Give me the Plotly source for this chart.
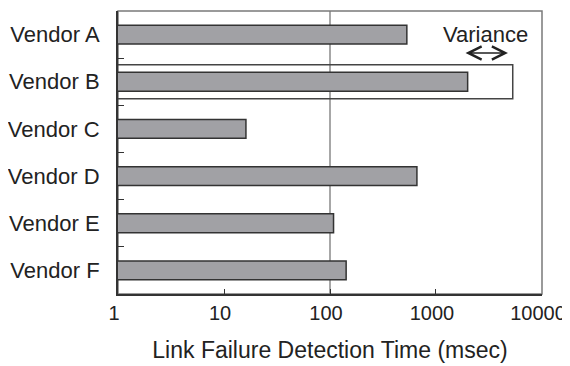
import math
import plotly.graph_objects as go

vendors = ["Vendor A", "Vendor B", "Vendor C", "Vendor D", "Vendor E", "Vendor F"]
detect_ms = [531, 1990, 16.1, 661, 108, 142]
variance_max = [None, 5300, None, None, None, None]
x_ticks = [1, 10, 100, 1000, 10000]
x_tick_labels = ["1", "10", "100", "1000", "10000"]
variance_arrow = [1840, 4780]
variance_label = "Variance"

FONT = "Liberation Sans, Arial, sans-serif"
BAR_FILL = "#a1a1a5"
DARK = "#333333"

fig = go.Figure()

fig.add_trace(go.Bar(
    y=vendors, x=variance_max, orientation="h", width=0.72,
    marker=dict(color="rgba(0,0,0,0)", line=dict(color="#444444", width=1.5)),
    hoverinfo="skip", showlegend=False,
))
fig.add_trace(go.Bar(
    y=vendors, x=detect_ms, orientation="h", width=0.4,
    marker=dict(color=BAR_FILL, line=dict(color=DARK, width=1.5)),
    showlegend=False,
))

# reference line at 100 ms
fig.add_shape(type="line", xref="x", yref="paper", x0=100, x1=100, y0=0, y1=1,
              line=dict(color="#8a8a8a", width=1.5), layer="below")
# plot frame (top/right gray)
fig.add_shape(type="rect", xref="paper", yref="paper", x0=0, x1=1, y0=0, y1=1,
              line=dict(color="#7a7a7a", width=1.5), layer="below")

# Variance annotation
fig.add_annotation(x=math.log10(2960), y=0, xref="x", yref="y", text=variance_label,
                   showarrow=False, font=dict(family=FONT, size=22, color="#222222"))
fig.add_annotation(x=math.log10(variance_arrow[1]), y=0.39, xref="x", yref="y",
                   ax=math.log10(variance_arrow[0]), ay=0.39, axref="x", ayref="y",
                   text="", showarrow=True, arrowside="end+start",
                   arrowhead=5, startarrowhead=5, arrowsize=2.0, startarrowsize=2.0,
                   arrowwidth=1.3, arrowcolor="#222222")

fig.update_layout(
    width=570, height=366,
    margin=dict(l=110, r=36, t=3, b=80),
    paper_bgcolor="white", plot_bgcolor="white",
    barmode="overlay",
    font=dict(family=FONT, color="#222222"),
    xaxis=dict(
        type="log", range=[-0.0004, 4.0004], automargin=False,
        tickvals=x_ticks, ticktext=x_tick_labels, ticklabeloverflow="allow",
        ticklabelshift=-4,
        ticks="inside", ticklen=5, tickwidth=1.2, tickcolor=DARK,
        showgrid=False, zeroline=False,
        showline=True, linecolor=DARK, linewidth=2,
        tickfont=dict(size=20, family=FONT, color="#222222"),
        title=dict(text="Link Failure Detection Time (msec)",
                   font=dict(size=23, family=FONT, color="#222222"), standoff=19),
    ),
    yaxis=dict(
        type="category", categoryorder="array", categoryarray=vendors,
        autorange="reversed", automargin=False,
        tickson="boundaries", ticks="inside", ticklen=6, tickwidth=1.2, tickcolor=DARK,
        showgrid=False, zeroline=False,
        showline=True, linecolor=DARK, linewidth=2,
        tickfont=dict(size=22, family=FONT, color="#222222"),
        ticklabelstandoff=12,
    ),
)

fig.write_html("out.html")
